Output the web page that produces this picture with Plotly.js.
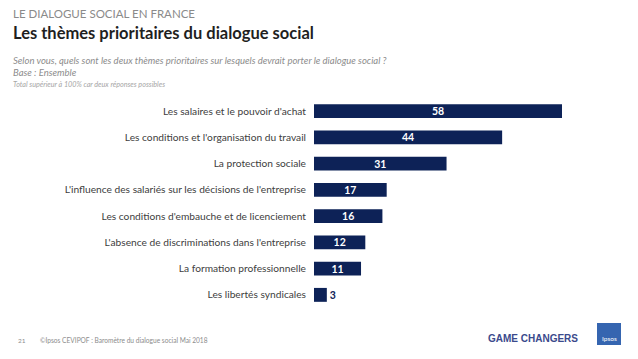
<!DOCTYPE html>
<html>
<head>
<meta charset="utf-8">
<script src="https://cdn.plot.ly/plotly-3.0.1.min.js"></script>
<style>html,body{margin:0;padding:0;background:#fff;}#chart{width:638px;height:359px;}</style>
</head>
<body>
<div id="chart"></div>
<script>
const categories = [
  "Les salaires et le pouvoir d'achat",
  "Les conditions et l'organisation du travail",
  "La protection sociale",
  "L'influence des salariés sur les décisions de l'entreprise",
  "Les conditions d'embauche et de licenciement",
  "L'absence de discriminations dans l'entreprise",
  "La formation professionnelle",
  "Les libertés syndicales"
];
const values = [58, 44, 31, 17, 16, 12, 11, 3];

const navy = '#0d2257';
const font = 'Lato, "Open Sans", sans-serif';

const trace = {
  type: 'bar',
  orientation: 'h',
  y: categories,
  x: values,
  marker: {color: navy},
  text: values.map(String),
  textposition: values.map(v => v < 6 ? 'outside' : 'inside'),
  insidetextanchor: 'middle',
  constraintext: 'none',
  insidetextfont: {family: font, size: 10.5, color: '#ffffff', weight: 700},
  outsidetextfont: {family: font, size: 10.5, color: navy, weight: 700},
  textangle: 0,
  cliponaxis: false,
  hoverinfo: 'none'
};

const P = (px) => (359 - 51 - px) / 210;      // pixel y -> paper y
const X = (px) => (px - 314) / 248;           // pixel x -> paper x

const layout = {
  width: 638, height: 359,
  margin: {l: 314, r: 76, t: 98, b: 51},
  paper_bgcolor: '#ffffff', plot_bgcolor: '#ffffff',
  showlegend: false,
  bargap: 0.47,
  font: {family: font},
  xaxis: {range: [0, 58], showgrid: false, zeroline: false, showticklabels: false, showline: false, fixedrange: true},
  yaxis: {autorange: 'reversed', showgrid: false, zeroline: false, showline: false, ticks: '',
          ticklabelstandoff: 7, tickfont: {family: font, size: 10.2, color: '#404040'}, fixedrange: true},
  shapes: [
    {type: 'rect', xref: 'paper', yref: 'paper', x0: X(597), x1: X(621),
     y0: P(345), y1: P(323), fillcolor: '#3565b0', line: {width: 0}}
  ],
  annotations: [
    {xref: 'paper', yref: 'paper', x: X(11), y: P(13), xanchor: 'left', yanchor: 'middle',
     text: 'LE DIALOGUE SOCIAL EN FRANCE', showarrow: false, font: {family: font, size: 11.5, color: '#8a8a8a'}},
    {xref: 'paper', yref: 'paper', x: X(11), y: P(33), xanchor: 'left', yanchor: 'middle',
     text: '<b>Les thèmes prioritaires du dialogue social</b>', showarrow: false, font: {family: font, size: 16.5, color: '#1f1f1f'}},
    {xref: 'paper', yref: 'paper', x: X(11), y: P(61), xanchor: 'left', yanchor: 'middle',
     text: '<i>Selon vous, quels sont les deux thèmes prioritaires sur lesquels devrait porter le dialogue social ?</i>', showarrow: false, font: {family: font, size: 9.5, color: '#8c8c8c'}},
    {xref: 'paper', yref: 'paper', x: X(11), y: P(72), xanchor: 'left', yanchor: 'middle',
     text: '<i>Base : Ensemble</i>', showarrow: false, font: {family: font, size: 9.5, color: '#8c8c8c'}},
    {xref: 'paper', yref: 'paper', x: X(11), y: P(84), xanchor: 'left', yanchor: 'middle',
     text: '<i>Total supérieur à 100% car deux réponses possibles</i>', showarrow: false, font: {family: font, size: 7.2, color: '#a6a6a6'}},
    {xref: 'paper', yref: 'paper', x: X(16), y: P(340), xanchor: 'left', yanchor: 'middle',
     text: '21', showarrow: false, font: {family: font, size: 6.5, color: '#8c8c8c'}},
    {xref: 'paper', yref: 'paper', x: X(38), y: P(340), xanchor: 'left', yanchor: 'middle',
     text: '©Ipsos CEVIPOF : Baromètre du dialogue social Mai 2018', showarrow: false, font: {family: font, size: 6.6, color: '#8c8c8c'}},
    {xref: 'paper', yref: 'paper', x: X(486), y: P(338), xanchor: 'left', yanchor: 'middle',
     text: '<b>GAME CHANGERS</b>', showarrow: false, font: {family: 'Liberation Sans, Arial, sans-serif', size: 10, color: '#3b4a8c'}},
    {xref: 'paper', yref: 'paper', x: X(609), y: P(338), xanchor: 'center', yanchor: 'middle',
     text: 'Ipsos', showarrow: false, font: {family: font, size: 6.5, color: '#ffffff'}}
  ]
};

Plotly.newPlot('chart', [trace], layout, {displayModeBar: false, staticPlot: true});
</script>
</body>
</html>
